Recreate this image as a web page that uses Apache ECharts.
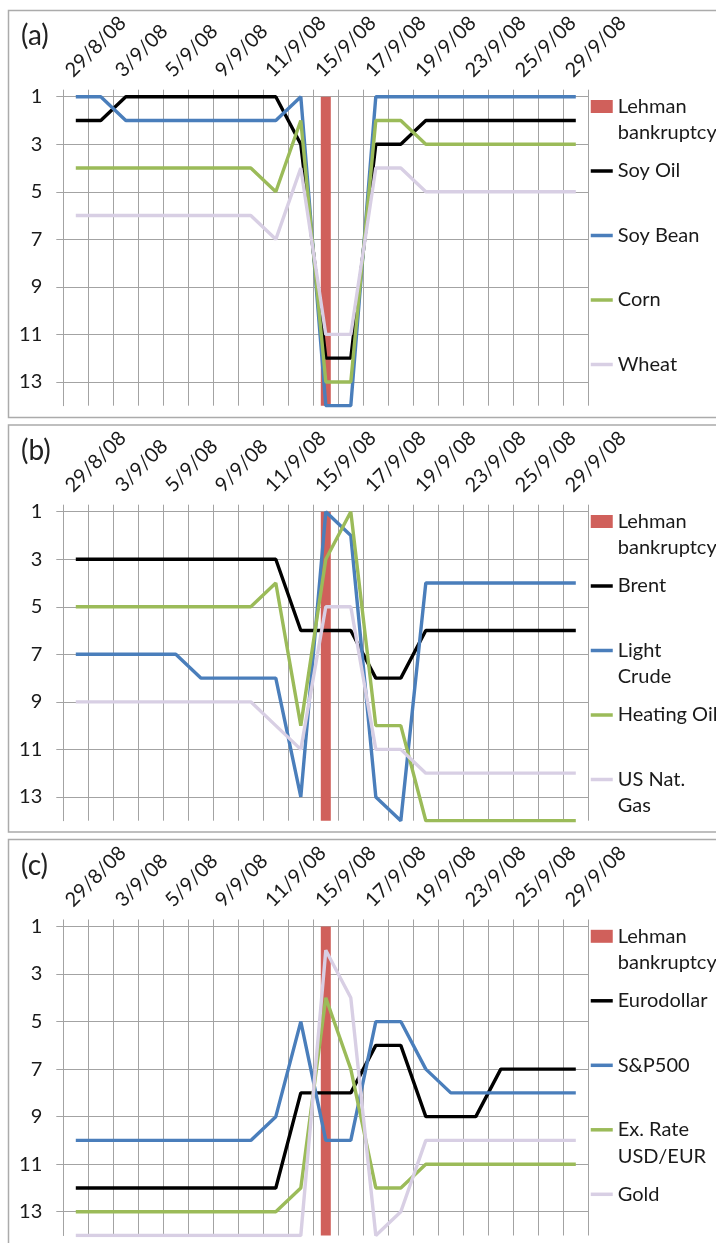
<!DOCTYPE html>
<html>
<head>
<meta charset="utf-8">
<script src="https://cdn.jsdelivr.net/npm/echarts@6.0.0/dist/echarts.min.js"></script>
<style>
  html, body { margin: 0; padding: 0; background: #ffffff; }
  #chart { width: 716px; height: 1243px; }
</style>
</head>
<body>
<div id="chart"></div>
<script>
// Trading days around the Lehman Brothers collapse
const DATES = ['29/8/08', '2/9/08', '3/9/08', '4/9/08', '5/9/08', '8/9/08', '9/9/08',
  '10/9/08', '11/9/08', '12/9/08', '15/9/08', '16/9/08', '17/9/08', '18/9/08', '19/9/08',
  '22/9/08', '23/9/08', '24/9/08', '25/9/08', '26/9/08', '29/9/08'];

// Rank ticks shown on the (reversed) vertical axis
const RANK_TICKS = [1, 3, 5, 7, 9, 11, 13];

// Marker bar for the bankruptcy day (15/9/08), spanning the full rank range
const LEHMAN = [null, null, null, null, null, null, null, null, null, null, 14,
  null, null, null, null, null, null, null, null, null, null];

// (a) agricultural commodities
const SOY_OIL  = [2, 2, 1, 1, 1, 1, 1, 1, 1, 3, 12, 12, 3, 3, 2, 2, 2, 2, 2, 2, 2];
const SOY_BEAN = [1, 1, 2, 2, 2, 2, 2, 2, 2, 1, 14, 14, 1, 1, 1, 1, 1, 1, 1, 1, 1];
const CORN     = [4, 4, 4, 4, 4, 4, 4, 4, 5, 2, 13, 13, 2, 2, 3, 3, 3, 3, 3, 3, 3];
const WHEAT    = [6, 6, 6, 6, 6, 6, 6, 6, 7, 4, 11, 11, 4, 4, 5, 5, 5, 5, 5, 5, 5];

// (b) energy
const BRENT       = [3, 3, 3, 3, 3, 3, 3, 3, 3, 6, 6, 6, 8, 8, 6, 6, 6, 6, 6, 6, 6];
const LIGHT_CRUDE = [7, 7, 7, 7, 7, 8, 8, 8, 8, 13, 1, 2, 13, 14, 4, 4, 4, 4, 4, 4, 4];
const HEATING_OIL = [5, 5, 5, 5, 5, 5, 5, 5, 4, 10, 3, 1, 10, 10, 14, 14, 14, 14, 14, 14, 14];
const US_NAT_GAS  = [9, 9, 9, 9, 9, 9, 9, 9, 10, 11, 5, 5, 11, 11, 12, 12, 12, 12, 12, 12, 12];

// (c) financial markets
const EURODOLLAR = [12, 12, 12, 12, 12, 12, 12, 12, 12, 8, 8, 8, 6, 6, 9, 9, 9, 7, 7, 7, 7];
const SP500      = [10, 10, 10, 10, 10, 10, 10, 10, 9, 5, 10, 10, 5, 5, 7, 8, 8, 8, 8, 8, 8];
const EX_RATE    = [13, 13, 13, 13, 13, 13, 13, 13, 13, 12, 4, 7, 12, 12, 11, 11, 11, 11, 11, 11, 11];
const GOLD       = [14, 14, 14, 14, 14, 14, 14, 14, 14, 14, 2, 4, 14, 13, 10, 10, 10, 10, 10, 10, 10];

const PANEL_TAGS = ['(a)', '(b)', '(c)'];
const PANEL_NAMES = [
  ['Soy Oil', 'Soy Bean', 'Corn', 'Wheat'],
  ['Brent', 'Light Crude', 'Heating Oil', 'US Nat. Gas'],
  ['Eurodollar', 'S&P500', 'Ex. Rate USD/EUR', 'Gold']
];
const PANEL_VALUES = [
  [SOY_OIL, SOY_BEAN, CORN, WHEAT],
  [BRENT, LIGHT_CRUDE, HEATING_OIL, US_NAT_GAS],
  [EURODOLLAR, SP500, EX_RATE, GOLD]
];
const LEHMAN_NAME = 'Lehman bankruptcy';

// Styling
const FONT = 'Lato, "DejaVu Sans", sans-serif';
const TEXT_COLOR = '#1a1a1a';
const GRID_COLOR = '#a3a3a3';
const BORDER_COLOR = '#ababab';
const LINE_COLORS = ['#000000', '#4a7ebb', '#9bbb59', '#d8cfe4'];
const BAR_COLOR = '#d0605b';

// Layout of the three stacked panels
const GRID_LEFT = 63.3;
const GRID_WIDTH = 525;
const GRID_HEIGHT = 309;
const GRID_TOPS = [96.7, 511.7, 926.5];
const PANEL_TOPS = [10, 424.5, 839];
const PANEL_HEIGHTS = [407, 407, 430];
const LEGEND_LINE = 26.5;

// Legend entries wrap like the original legend box
const LEGEND_WRAP = {
  'Lehman bankruptcy': 'Lehman\nbankruptcy',
  'Light Crude': 'Light\nCrude',
  'US Nat. Gas': 'US Nat.\nGas',
  'Ex. Rate USD/EUR': 'Ex. Rate\nUSD/EUR'
};
function legendText(name) {
  const wrapped = LEGEND_WRAP[name];
  // three-line block keeps the marker level with the first line of text
  return wrapped ? '\n' + wrapped : '\n' + name + '\n';
}

const grids = [], xAxes = [], yAxes = [], series = [], legends = [], graphics = [];

PANEL_NAMES.forEach(function (names, p) {
  grids.push({ left: GRID_LEFT, top: GRID_TOPS[p], width: GRID_WIDTH, height: GRID_HEIGHT, containLabel: false });

  xAxes.push({
    type: 'category',
    gridIndex: p,
    position: 'top',
    data: DATES,
    boundaryGap: true,
    axisLine: { show: true, onZero: false, lineStyle: { color: GRID_COLOR, width: 1 } },
    axisTick: { show: true, interval: 0, length: 7, lineStyle: { color: GRID_COLOR, width: 1 } },
    splitLine: { show: true, interval: 0, lineStyle: { color: GRID_COLOR, width: 1 } },
    axisLabel: {
      interval: 1,
      rotate: -45,
      align: 'left',
      verticalAlign: 'bottom',
      margin: 16,
      fontFamily: FONT,
      fontSize: 20,
      color: TEXT_COLOR
    }
  });

  yAxes.push({
    type: 'value',
    gridIndex: p,
    inverse: true,
    min: 1,
    max: 14,
    axisLine: { show: true, lineStyle: { color: GRID_COLOR, width: 1 } },
    axisTick: { show: true, length: 7, customValues: RANK_TICKS, lineStyle: { color: GRID_COLOR, width: 1 } },
    splitLine: { show: true, lineStyle: { color: GRID_COLOR, width: 1 } },
    axisLabel: {
      customValues: RANK_TICKS,
      margin: 21,
      fontFamily: FONT,
      fontSize: 20,
      color: TEXT_COLOR
    }
  });

  series.push({
    type: 'bar',
    name: LEHMAN_NAME,
    xAxisIndex: p,
    yAxisIndex: p,
    data: LEHMAN,
    barWidth: 10,
    clip: true,
    itemStyle: { color: BAR_COLOR },
    z: 2
  });

  names.forEach(function (name, k) {
    series.push({
      type: 'line',
      name: name,
      xAxisIndex: p,
      yAxisIndex: p,
      data: PANEL_VALUES[p][k],
      symbol: 'none',
      lineStyle: { color: LINE_COLORS[k], width: 3.4 },
      itemStyle: { color: LINE_COLORS[k] },
      z: 3 + k
    });
  });

  legends.push({
    orient: 'vertical',
    left: 589,
    top: GRID_TOPS[p] + 9.8 - 1.5 * LEGEND_LINE,
    padding: 0,
    itemWidth: 22,
    itemHeight: 13,
    itemGap: 64.5 - 3 * LEGEND_LINE,
    selectedMode: false,
    data: [{ name: LEHMAN_NAME, icon: 'rect' }].concat(names.map(function (n) {
      // plain line swatch, no point marker
      return { name: n, itemStyle: { opacity: 0 } };
    })),
    formatter: legendText,
    lineStyle: { width: 3.5 },
    textStyle: { fontFamily: FONT, fontSize: 20, lineHeight: LEGEND_LINE, color: TEXT_COLOR }
  });

  graphics.push({
    type: 'rect',
    shape: { x: 8.5, y: PANEL_TOPS[p] + 0.5, width: 720, height: PANEL_HEIGHTS[p] },
    style: { fill: 'none', stroke: BORDER_COLOR, lineWidth: 1.5 },
    silent: true,
    z: -10
  });
  graphics.push({
    type: 'text',
    left: 21,
    top: GRID_TOPS[p] - 75,
    style: { text: PANEL_TAGS[p], font: '28px ' + FONT, fill: '#222222' },
    silent: true
  });
});

const chart = echarts.init(document.getElementById('chart'), null, { renderer: 'canvas' });
chart.setOption({
  animation: false,
  backgroundColor: '#ffffff',
  grid: grids,
  xAxis: xAxes,
  yAxis: yAxes,
  legend: legends,
  series: series,
  graphic: graphics
});
</script>
</body>
</html>
